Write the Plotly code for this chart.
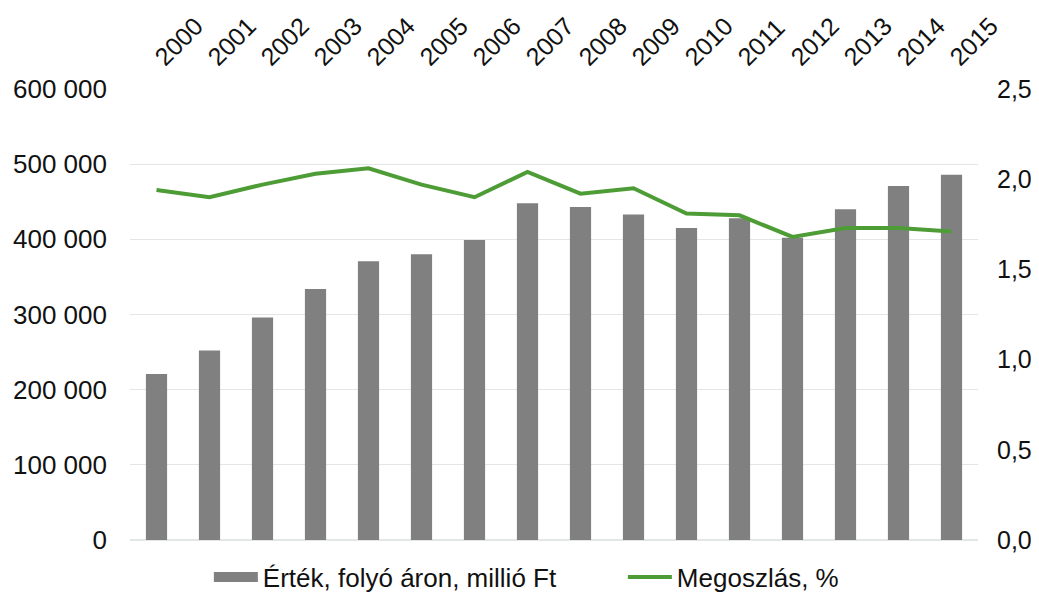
import plotly.graph_objects as go

years = [str(y) for y in range(2000, 2016)]
ertek = [221000, 252000, 296000, 334000, 371000, 380000, 399000, 448000,
         443000, 433000, 415000, 428000, 402000, 440000, 471000, 486000]
megoszlas = [1.94, 1.90, 1.97, 2.03, 2.06, 1.97, 1.90, 2.04,
             1.92, 1.95, 1.81, 1.80, 1.68, 1.73, 1.73, 1.71]

bar_name = "Érték, folyó áron, millió Ft"
line_name = "Megoszlás, %"
font = "Liberation Sans, Arial, sans-serif"

fig = go.Figure()
fig.add_trace(go.Bar(
    x=years, y=ertek, name=bar_name, showlegend=False,
    marker=dict(color="#808080", line=dict(width=0)),
    width=0.4,
))
# legend-only entry so the bar key is a wide rectangle like the original
fig.add_trace(go.Scatter(
    x=[None], y=[None], name=bar_name, mode="lines",
    line=dict(color="#808080", width=13),
))
fig.add_trace(go.Scatter(
    x=years, y=megoszlas, name=line_name, yaxis="y2",
    mode="lines", line=dict(color="#4e9c36", width=4),
))

# page body has an 8px margin on every side, so keep the figure inside the window
fig.update_layout(
    width=1023, height=584,
    margin=dict(l=122, r=53, t=81, b=52, autoexpand=False),
    plot_bgcolor="white", paper_bgcolor="white",
    separators=", ",
    font=dict(family=font, size=26, color="#111111"),
    legend=dict(orientation="h", x=0.093, xanchor="left", y=-0.03, yanchor="top",
                font=dict(size=26), traceorder="normal", itemwidth=44,
                entrywidth=355),
    xaxis=dict(side="top", tickangle=-45, showgrid=False, showline=False,
               ticks="", tickfont=dict(size=25), automargin=False,
               ticklabelstandoff=12),
    yaxis=dict(range=[0, 600000], dtick=100000, tickformat=",d",
               showgrid=True, gridcolor="#e2e6e4", gridwidth=1,
               zeroline=True, zerolinecolor="#e2e6e4", ticks="",
               ticklabelstandoff=22, automargin=False),
    yaxis2=dict(range=[0, 2.5], dtick=0.5, tickformat=".1f", overlaying="y",
                side="right", showgrid=False, zeroline=False, ticks="",
                tickfont=dict(size=25), ticklabelstandoff=18, automargin=False),
)

fig.write_html("out.html")
